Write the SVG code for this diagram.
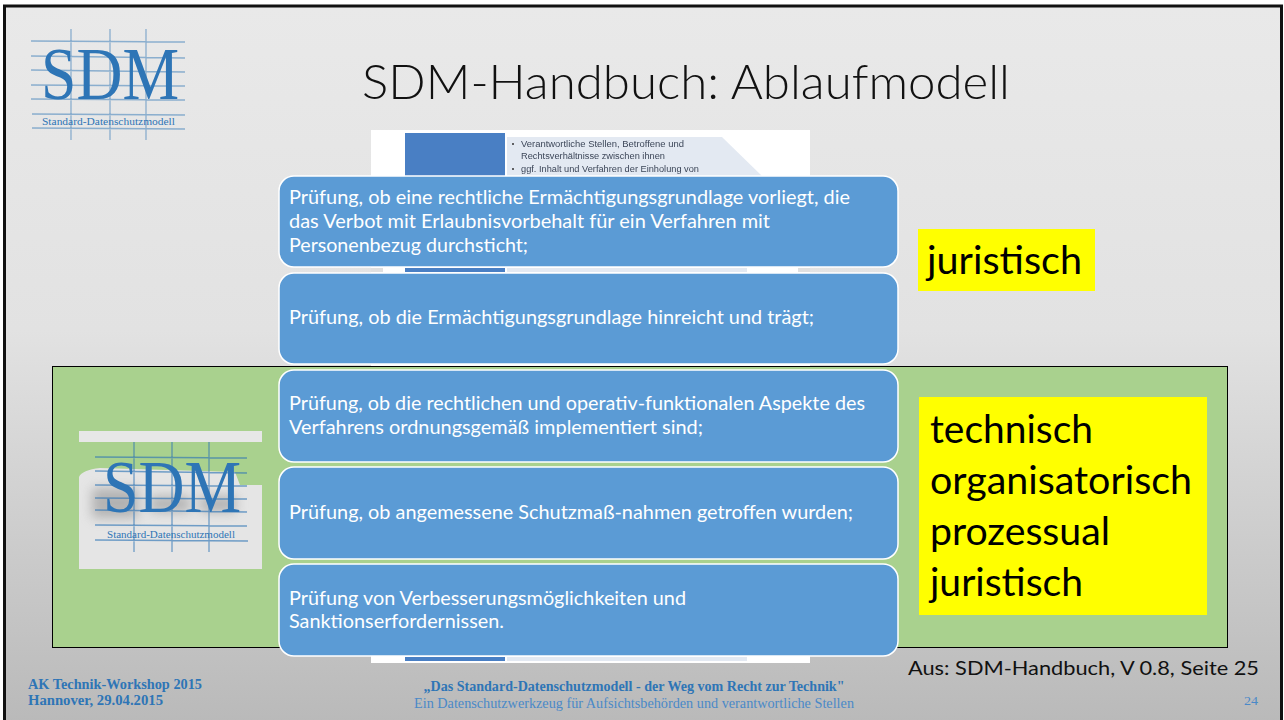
<svg xmlns="http://www.w3.org/2000/svg" width="1284" height="720" viewBox="0 0 1284 720">
<style>
.box{fill:#5b9bd5;stroke:#fff;stroke-width:1.5}
.bt{font-family:Lato,"Open Sans",sans-serif;font-size:19px;fill:#fff}
.yt{font-family:Lato,"Open Sans",sans-serif;fill:#000}
.ft{font-family:"Liberation Serif",serif;fill:#2e75b6}
.grid{stroke:#2e75b6;stroke-opacity:.5;stroke-width:1.3;fill:none}
.sdm{font-family:"Liberation Serif",serif;fill:#2e75b6}
.sub{font-family:"Liberation Serif",serif;fill:#2e75b6}
</style>
<defs>
<linearGradient id="bg" x1="0" y1="0" x2="0" y2="1">
<stop offset="0" stop-color="#e9e9e9"/><stop offset=".45" stop-color="#e2e2e2"/><stop offset="1" stop-color="#b9b9b9"/>
</linearGradient>
<filter id="blur" x="-30%" y="-50%" width="160%" height="200%"><feGaussianBlur stdDeviation="6"/></filter>
<filter id="soft" x="-5%" y="-5%" width="110%" height="110%"><feGaussianBlur stdDeviation=".5"/></filter>
</defs>
<rect width="1284" height="720" fill="#fff"/>
<rect x="4.500" y="6" width="1277" height="720" fill="url(#bg)" stroke="#111" stroke-width="3"/>

<g id="logo-top">
<path class="grid" d="M31 41L185 42M31 56L185 58M31 70L185 72M31 85L185 86M31 99L185 100M32 114L185 115M32 128L185 129M71 29V140M110 29V140M146 29V140"/>
<text class="sdm" x="41" y="99" font-size="74" textLength="138" lengthAdjust="spacingAndGlyphs">SDM</text>
<text class="sub" x="42" y="125" font-size="10.500" textLength="133" lengthAdjust="spacingAndGlyphs">Standard-Datenschutzmodell</text>
</g>

<text id="title" x="362" y="99" font-family="Lato,Open Sans,sans-serif" font-weight="300" font-size="47" fill="#111" textLength="648" lengthAdjust="spacingAndGlyphs">SDM-Handbuch: Ablaufmodell</text>

<g id="source-image">
<rect x="371" y="130" width="439" height="533" fill="#fff"/>
<g filter="url(#soft)">
<rect x="405" y="133" width="100" height="45" fill="#4a7fc4"/>
<path d="M507 137H722L762 176H507Z" fill="#e3e9f2"/>
<text x="521" y="147" font-family="Liberation Sans,sans-serif" font-size="8.500" fill="#3c4658" textLength="163" lengthAdjust="spacingAndGlyphs">Verantwortliche Stellen, Betroffene und</text>
<text x="521" y="159" font-family="Liberation Sans,sans-serif" font-size="8.500" fill="#3c4658" textLength="144" lengthAdjust="spacingAndGlyphs">Rechtsverhältnisse zwischen ihnen</text>
<text x="521" y="172" font-family="Liberation Sans,sans-serif" font-size="8.500" fill="#3c4658" textLength="178" lengthAdjust="spacingAndGlyphs">ggf. Inhalt und Verfahren der Einholung von</text>
<circle cx="513" cy="144" r="1" fill="#333"/><circle cx="513" cy="169" r="1" fill="#333"/>
<rect x="405" y="268" width="100" height="4" fill="#4a7fc4"/>
<rect x="507" y="268" width="240" height="4" fill="#e3e9f2"/>
<rect x="405" y="657" width="100" height="4" fill="#4a7fc4"/>
<rect x="507" y="657" width="240" height="4" fill="#e3e9f2"/>
</g>
<rect x="371" y="268" width="12" height="4" fill="#e0e0e0"/>
<rect x="798" y="268" width="12" height="4" fill="#e0e0e0"/>
</g>

<g id="green-panel">
<rect x="52.500" y="366.500" width="1175" height="281" fill="#a9d18e" stroke="#000" stroke-width="1"/>
</g>

<g id="logo-panel">
<rect x="79" y="431" width="183" height="11" fill="#e7e7e7"/>
<path d="M79 484V477Q82 470 100 468L235 472L240 485H262V569H79Z" fill="#e5e5e5"/>
<g filter="url(#blur)" fill="#8a8a8a" opacity=".55"><rect x="92" y="488" width="46" height="30"/><rect x="150" y="496" width="40" height="16"/><rect x="200" y="496" width="36" height="16"/></g>
<path class="grid" style="stroke-opacity:.65" d="M95 457L247 458M95 471L247 473M95 485L247 486M95 498L247 499M95 510L247 512M95 525L247 526M95 540L248 541M134 442V552M172 442V552M209 442V552"/>
<text class="sdm" x="103" y="512" font-size="74" textLength="138" lengthAdjust="spacingAndGlyphs">SDM</text>
<text class="sub" x="107" y="538" font-size="10.500" textLength="128" lengthAdjust="spacingAndGlyphs">Standard-Datenschutzmodell</text>
</g>

<g id="step-1"><rect class="box" x="279" y="176" width="619" height="91" rx="15"/>
<text class="bt" x="289" y="204" textLength="561" lengthAdjust="spacingAndGlyphs">Prüfung, ob eine rechtliche Ermächtigungsgrundlage vorliegt, die</text>
<text class="bt" x="289" y="228" textLength="481" lengthAdjust="spacingAndGlyphs">das Verbot mit Erlaubnisvorbehalt für ein Verfahren mit</text>
<text class="bt" x="289" y="252" textLength="239" lengthAdjust="spacingAndGlyphs">Personenbezug durchsticht;</text></g>
<g id="step-2"><rect class="box" x="279" y="273" width="619" height="91" rx="15"/>
<text class="bt" x="289" y="324" textLength="525" lengthAdjust="spacingAndGlyphs">Prüfung, ob die Ermächtigungsgrundlage hinreicht und trägt;</text></g>
<g id="step-3"><rect class="box" x="279" y="370" width="619" height="92" rx="15"/>
<text class="bt" x="289" y="410" textLength="576" lengthAdjust="spacingAndGlyphs">Prüfung, ob die rechtlichen und operativ-funktionalen Aspekte des</text>
<text class="bt" x="289" y="434" textLength="414" lengthAdjust="spacingAndGlyphs">Verfahrens ordnungsgemäß implementiert sind;</text></g>
<g id="step-4"><rect class="box" x="279" y="467" width="619" height="92" rx="15"/>
<text class="bt" x="289" y="519" textLength="564" lengthAdjust="spacingAndGlyphs">Prüfung, ob angemessene Schutzmaß-nahmen getroffen wurden;</text></g>
<g id="step-5"><rect class="box" x="279" y="564" width="619" height="92" rx="15"/>
<text class="bt" x="289" y="605" textLength="397" lengthAdjust="spacingAndGlyphs">Prüfung von Verbesserungsmöglichkeiten und</text>
<text class="bt" x="289" y="628" textLength="215" lengthAdjust="spacingAndGlyphs">Sanktionserfordernissen.</text></g>

<g id="label-juristisch"><rect x="918" y="229" width="177" height="62" fill="#ff0"/>
<text class="yt" x="927" y="274" font-size="38" textLength="155" lengthAdjust="spacingAndGlyphs">juristisch</text></g>
<g id="label-technisch"><rect x="919" y="397" width="288" height="218" fill="#ff0"/>
<text class="yt" x="930" y="443" font-size="38" textLength="163" lengthAdjust="spacingAndGlyphs">technisch</text>
<text class="yt" x="930" y="494" font-size="38" textLength="262" lengthAdjust="spacingAndGlyphs">organisatorisch</text>
<text class="yt" x="930" y="545" font-size="38" textLength="180" lengthAdjust="spacingAndGlyphs">prozessual</text>
<text class="yt" x="930" y="596" font-size="38" textLength="153" lengthAdjust="spacingAndGlyphs">juristisch</text></g>

<text id="source" class="yt" x="908" y="675" font-size="19" style="fill:#111" textLength="351" lengthAdjust="spacingAndGlyphs">Aus: SDM-Handbuch, V 0.8, Seite 25</text>

<g id="footer">
<text class="ft" x="28" y="689" font-size="14.500" font-weight="700" textLength="174" lengthAdjust="spacingAndGlyphs">AK Technik-Workshop 2015</text>
<text class="ft" x="28" y="705" font-size="14.500" font-weight="700" textLength="135" lengthAdjust="spacingAndGlyphs">Hannover, 29.04.2015</text>
<text class="ft" x="634" y="691" font-size="14.500" font-weight="700" text-anchor="middle" textLength="421" lengthAdjust="spacingAndGlyphs">„Das Standard-Datenschutzmodell - der Weg vom Recht zur Technik"</text>
<text class="ft" x="634" y="708" font-size="14.500" text-anchor="middle" textLength="440" lengthAdjust="spacingAndGlyphs" style="fill:#4a89c8">Ein Datenschutzwerkzeug für Aufsichtsbehörden und verantwortliche Stellen</text>
<text class="ft" x="1244" y="705" font-size="13" textLength="14" lengthAdjust="spacingAndGlyphs" style="fill:#4a89c8">24</text>
</g>
</svg>
